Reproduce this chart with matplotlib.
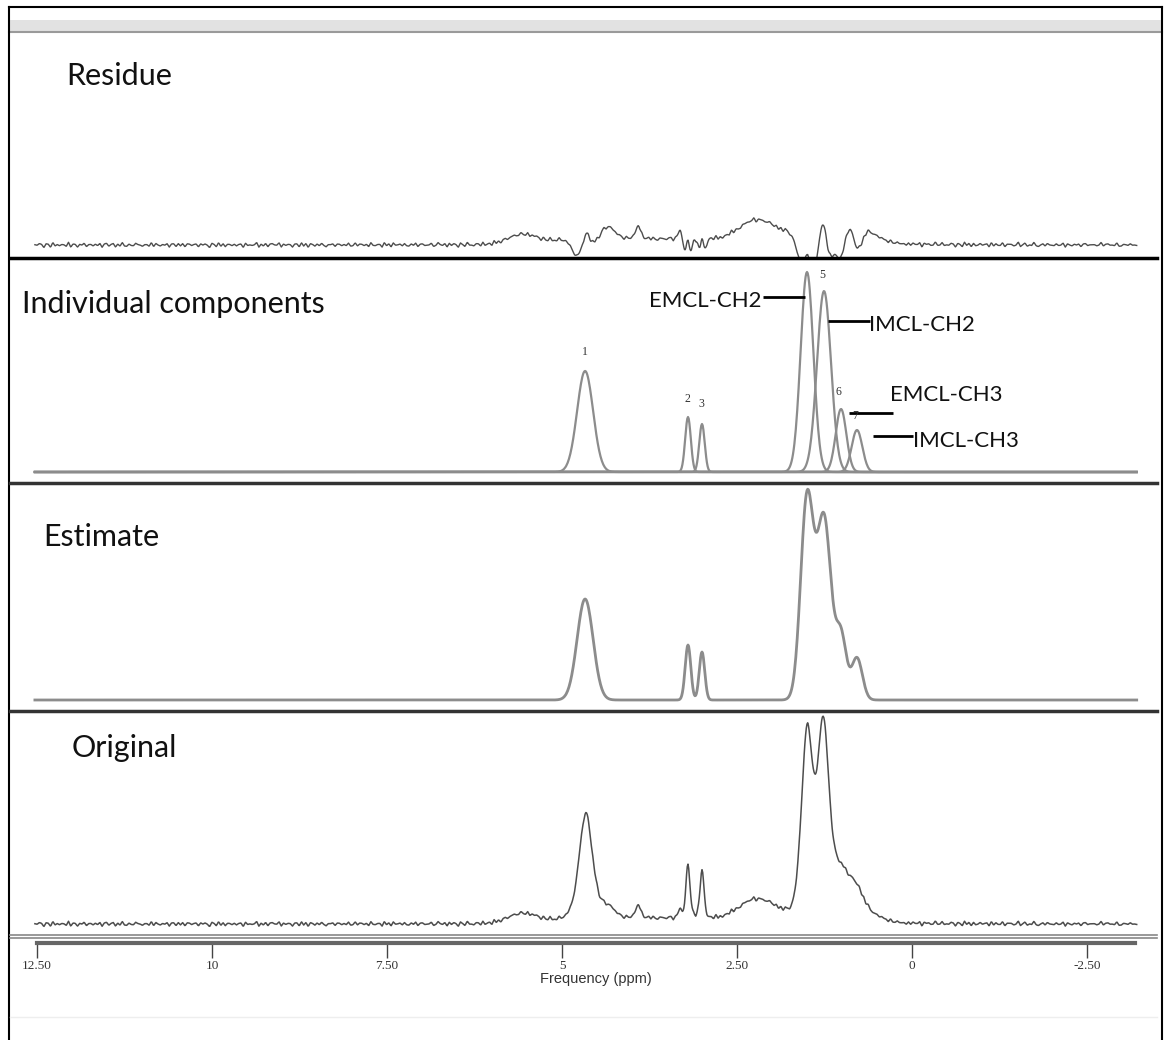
import numpy as np
import matplotlib.pyplot as plt
from matplotlib.lines import Line2D
from matplotlib.patches import Rectangle

plt.rcParams['font.family'] = ['Lato', 'DejaVu Sans']

W, H = 1167, 1040

# fitted components (gaussian): centre (ppm), height, sigma (ppm)
comp_pos = [4.67, 3.20, 3.00, 1.50, 1.257, 1.014, 0.786]
comp_height = [101, 55, 48, 200, 181, 63, 42]
comp_sigma = [0.114, 0.040, 0.039, 0.091, 0.100, 0.076, 0.076]
comp_labels = ['1', '2', '3', '4', '5', '6', '7']
# label positions (ppm, height)
label_pos = [4.671, 3.214, 3.014, 1.486, 1.286, 1.057, 0.814]
label_h = [120, 73, 68, 216, 197, 80, 56]

# measured spectrum: pseudo-voigt peaks (centre, height, fwhm, lorentz fraction)
orig_pos = [5.56, 4.66, 4.35, 3.91, 3.31, 3.20, 3.00, 2.21, 3.60, 1.50, 1.27, 0.99, 0.80, 1.15, 0.70]
orig_height = [9.5, 108, 10, 14, 8, 53, 48, 22, 5, 178, 168, 16, 20, 36, 10]
orig_fwhm = [0.50, 0.23, 0.25, 0.08, 0.06, 0.07, 0.07, 0.64, 2.0, 0.19, 0.19, 0.20, 0.23, 0.46, 0.50]
orig_eta = [0, 0.45, 0, 0.5, 0.5, 0.4, 0.4, 0, 0, 0.3, 0.45, 0.2, 0.3, 0, 0]
orig_offset = 2

# baseline noise texture (two lists of different length)
noise_a = [0.8, -1.2, 1.9, -0.4, -2.1, 1.1, 0.3, -1.6, 2.2, -0.7, 0.5, -1.9, 1.4,
           -0.2, -1.1, 2.0, -1.5, 0.9, 0.1, -2.3, 1.6, -0.6, 1.0, -1.3, 0.4, 1.8,
           -2.0, 0.7, -0.3, 1.3, -1.7, 0.2, 2.1, -0.9, -0.1, 1.5, -1.4]
noise_b = [-0.5, 0.9, -0.2, 1.1, -1.0, 0.3, 0.6, -1.2, 0.8, -0.4, 0.0, 1.0, -0.8,
           0.4, -0.6, 1.2, -1.1, 0.2, 0.7, -0.3, -0.9, 0.5, 1.1, -0.7, 0.1, -1.2,
           0.9, 0.3, -0.5, 0.6, -1.0, 1.0, -0.1, -0.6, 0.8, 0.2, -1.1, 0.4, -0.3,
           1.1, -0.8, 0.5, 0.0, -0.9, 0.7, -0.2, 1.2, -0.6, 0.3, -1.0, 0.6, -0.4, 0.9]

tick_vals = [12.5, 10, 7.5, 5, 2.5, 0, -2.5]
tick_text = ['12.50', '10', '7.50', '5', '2.50', '0', '-2.50']

annotations = [
    # text, text x, text y, ha, line x0, line x1, line y
    ('EMCL-CH2', 2.143, 171, 'right', 2.129, 1.529, 175),
    ('IMCL-CH2', 0.614, 147, 'left', 1.200, 0.600, 151),
    ('EMCL-CH3', 0.314, 77, 'left', 0.900, 0.271, 59),
    ('IMCL-CH3', -0.014, 31, 'left', 0.557, -0.014, 36),
]


def fx(x):
    return x / W


def fy(y):
    return 1 - y / H


def pvoigt(x, x0, h, fw, eta):
    d = (x - x0) / (fw / 2)
    return h * (eta / (1 + d ** 2) + (1 - eta) * np.exp(-np.log(2) * d ** 2))


ppm = np.arange(12.53, -3.215, -0.01)
ppm_c = np.arange(12.53, -3.26, -0.032)
nc = len(ppm_c)
noise_c = 0.85 * (np.resize(noise_a, nc) + np.resize(noise_b, nc))
noise = np.interp(ppm, ppm_c[::-1], noise_c[::-1])

components = [h * np.exp(-(ppm - p) ** 2 / (2 * s ** 2))
              for p, h, s in zip(comp_pos, comp_height, comp_sigma)]
estimate = np.sum(components, axis=0)

original = orig_offset + noise
for p, h, f, e in zip(orig_pos, orig_height, orig_fwhm, orig_eta):
    original = original + pvoigt(ppm, p, h, f, e)
residue = original - estimate

fig = plt.figure(figsize=(W / 100, H / 100), dpi=100)

# x range of the panels (pixels 10..1158), 70 px per ppm, 12.5 ppm at x=37
x_left = 12.5 + (37 - 10) / 70
x_right = 12.5 - (1158 - 37) / 70

panels = [('Residue', 33, 258, 66, 85),
          ('Individual components', 258, 483, 22, 313),
          ('Estimate', 483, 711, 43, 546),
          ('Original', 711, 937, 72, 757)]

axes = []
for name, top, bot, tx, ty in panels:
    ax = fig.add_axes([fx(10), fy(bot), (1158 - 10) / W, (bot - top) / H])
    ax.set_xlim(x_left, x_right)
    ax.set_ylim(-11, (bot - top) - 11)
    ax.set_facecolor('none')
    ax.axis('off')
    axes.append(ax)
    fig.text(fx(tx), fy(ty), name, fontsize=22, color='#111111', va='baseline')

ax_res, ax_comp, ax_est, ax_orig = axes

ax_res.plot(ppm, residue, color='#4d4d4d', lw=1.0)
for c in components:
    ax_comp.plot(ppm, c, color='#8c8c8c', lw=1.6)
ax_est.plot(ppm, estimate, color='#8c8c8c', lw=2.0)
ax_orig.plot(ppm, original, color='#4d4d4d', lw=1.1)

for lab, p, h in zip(comp_labels, label_pos, label_h):
    ax_comp.text(p, h, lab, fontsize=8.5, family='Liberation Serif', color='#333333',
                 ha='center', va='center', clip_on=True)

for txt, tx, ty, ha, lx0, lx1, ly in annotations:
    ax_comp.plot([lx0, lx1], [ly, ly], color='black', lw=2, solid_capstyle='butt')
    ax_comp.text(tx, ty, txt, fontsize=16, color='#111111', ha=ha, va='center')

# frequency axis
ax_x = fig.add_axes([fx(37), fy(943), (1135 - 37) / W, 0.0001])
ax_x.set_xlim(12.5, 12.5 - (1135 - 37) / 70)
ax_x.set_facecolor('none')
for s in ['top', 'left', 'right']:
    ax_x.spines[s].set_visible(False)
ax_x.spines['bottom'].set_color('#666666')
ax_x.spines['bottom'].set_linewidth(3)
ax_x.set_yticks([])
ax_x.set_xticks(tick_vals)
ax_x.set_xticklabels(tick_text, family='Liberation Serif', fontsize=9.5, color='#333333')
ax_x.tick_params(axis='x', direction='out', length=11, width=1, color='#444444', pad=1)
fig.text(fx(596), fy(979), 'Frequency (ppm)', family='Liberation Sans', fontsize=10.5,
         color='#333333', ha='center', va='center')

# frame, header band and separators
fig.add_artist(Rectangle((fx(9), fy(32)), fx(1162) - fx(9), fy(20) - fy(32),
                         transform=fig.transFigure, facecolor='#e2e2e2', edgecolor='none'))
fig.add_artist(Line2D([fx(9), fx(1162)], [fy(32), fy(32)], color='#9a9a9a', lw=1.5))
fig.add_artist(Line2D([fx(9), fx(1162)], [fy(7), fy(7)], color='black', lw=1.5))
fig.add_artist(Line2D([fx(9), fx(9)], [fy(7), 0], color='black', lw=1.5))
fig.add_artist(Line2D([fx(1162), fx(1162)], [fy(7), 0], color='black', lw=1.5))
fig.add_artist(Line2D([fx(10), fx(1157)], [fy(258), fy(258)], color='black', lw=2.5))
fig.add_artist(Line2D([fx(10), fx(1157)], [fy(483), fy(483)], color='#333333', lw=2.5))
fig.add_artist(Line2D([fx(10), fx(1157)], [fy(711), fy(711)], color='#333333', lw=2.5))
fig.add_artist(Line2D([fx(10), fx(1157)], [fy(935), fy(935)], color='#888888', lw=1.2))
fig.add_artist(Line2D([fx(10), fx(1157)], [fy(938), fy(938)], color='#888888', lw=1.2))
fig.add_artist(Line2D([fx(10), fx(1157)], [fy(1017), fy(1017)], color='#eeeeee', lw=1))

fig.savefig('out.png', dpi=100, facecolor='white')
